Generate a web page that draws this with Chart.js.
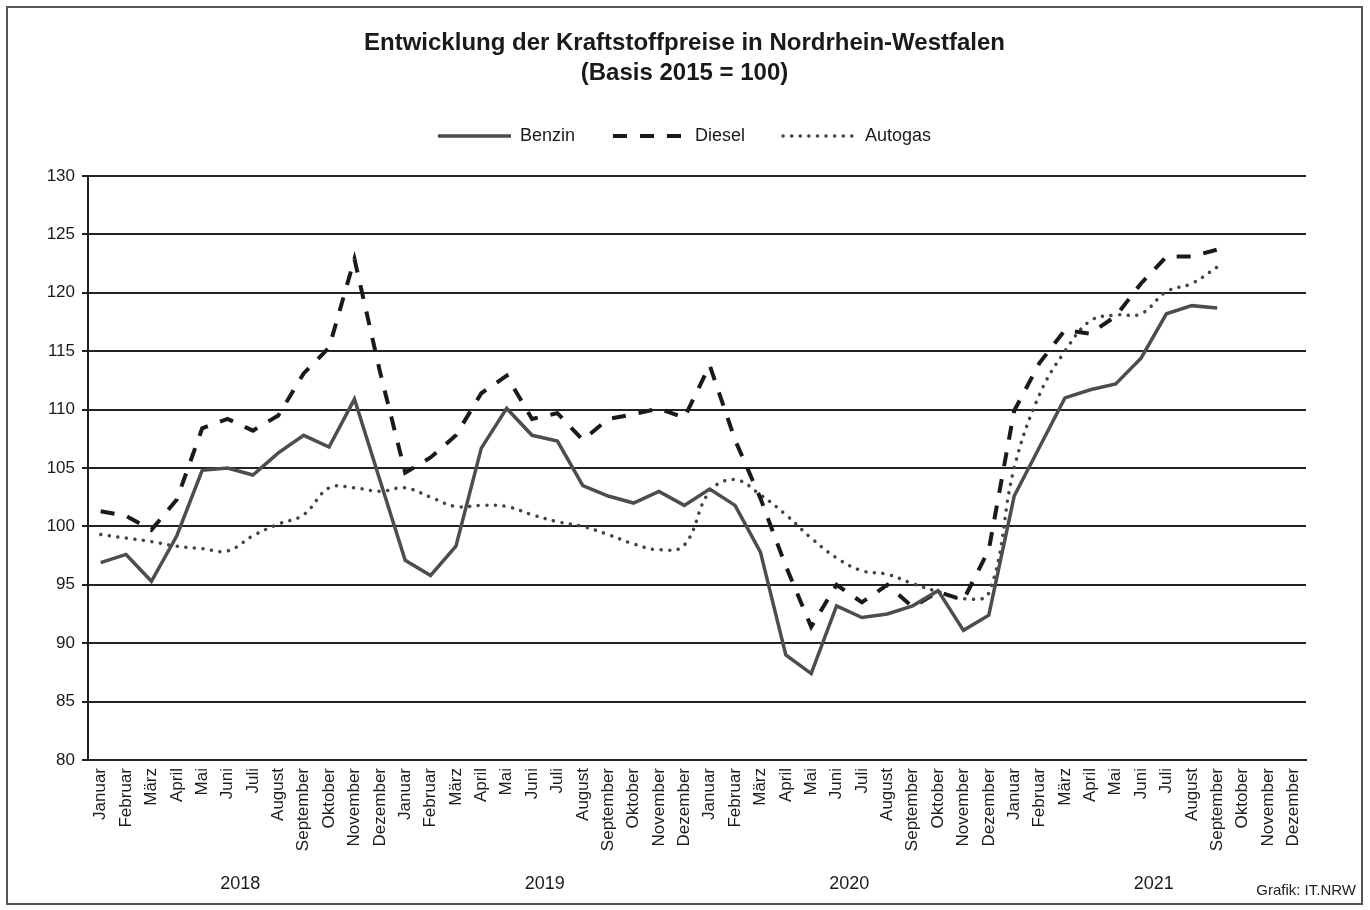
<!DOCTYPE html>
<html>
<head>
<meta charset="utf-8">
<script src="https://cdn.jsdelivr.net/npm/chart.js@4/dist/chart.umd.min.js"></script>
<style>
  body { margin: 0; background: #fff; }
  #frame { position: absolute; left: 6px; top: 6px; width: 1357px; height: 899px; border: 2px solid #555; box-sizing: border-box; }
  #quelle { position: absolute; right: 14px; top: 881px; font: 15px "Liberation Sans", Arial, sans-serif; color: #222; }
</style>
</head>
<body>
<div id="frame"><canvas id="chart" width="1353" height="895"></canvas></div>
<div id="quelle">Grafik: IT.NRW</div>
<script>
// Monate und Jahre
const months = ['Januar', 'Februar', 'März', 'April', 'Mai', 'Juni', 'Juli', 'August', 'September', 'Oktober', 'November', 'Dezember'];
const years = ['2018', '2019', '2020', '2021'];

// Index-Werte (2015 = 100), Januar 2018 bis September 2021
const benzin = [96.9, 97.6, 95.3, 99.2, 104.8, 105.0, 104.4, 106.3, 107.8, 106.8, 110.9, 104.0,
                97.1, 95.8, 98.3, 106.7, 110.1, 107.8, 107.3, 103.5, 102.6, 102.0, 103.0, 101.8,
                103.2, 101.8, 97.8, 89.0, 87.4, 93.2, 92.2, 92.5, 93.2, 94.5, 91.1, 92.4,
                102.6, 106.8, 111.0, 111.7, 112.2, 114.4, 118.2, 118.9, 118.7];
const diesel = [101.3, 100.9, 99.7, 102.3, 108.4, 109.2, 108.2, 109.5, 113.1, 115.3, 122.9, 113.3,
                104.6, 105.9, 107.8, 111.4, 112.9, 109.2, 109.7, 107.4, 109.2, 109.6, 110.1, 109.3,
                113.8, 107.4, 102.4, 96.6, 91.4, 95.0, 93.5, 95.0, 93.1, 94.4, 93.7, 98.0,
                109.9, 114.0, 116.8, 116.5, 118.0, 120.8, 123.1, 123.1, 123.7];
const autogas = [99.3, 99.0, 98.7, 98.3, 98.1, 97.9, 99.2, 100.2, 101.0, 103.3, 103.3, 103.0,
                 103.3, 102.5, 101.7, 101.8, 101.7, 101.0, 100.4, 100.0, 99.3, 98.5, 98.0, 98.4,
                 103.0, 104.0, 102.7, 101.0, 99.0, 97.3, 96.2, 95.9, 95.1, 94.4, 93.8, 94.3,
                 105.0, 111.3, 115.0, 117.6, 118.1, 118.2, 120.1, 120.8, 122.2];

var labels = [];
years.forEach(() => { labels = labels.concat(months); });

const font = '"Liberation Sans", Arial, sans-serif';

// extra space between legend and plot
const legendSpacer = {
    id: 'legendSpacer',
    beforeLayout(chart) {
        const legend = chart.legend;
        if (!legend || legend._spaced) return;
        const fit = legend.fit;
        legend.fit = function () {
            fit.call(this);
            this.height += 21;
        };
        legend._spaced = true;
    }
};

new Chart("chart", {
    type: 'line',
    data: {
        labels: labels,
        datasets: [
            {
                label: 'Benzin',
                data: benzin,
                borderColor: '#4d4d4d',
                borderWidth: 3.5,
                pointStyle: 'line',
                pointRadius: 0,
                tension: 0
            },
            {
                label: 'Diesel',
                data: diesel,
                borderColor: '#1a1a1a',
                borderWidth: 4,
                borderDash: [14, 13],
                pointStyle: 'line',
                pointRadius: 0,
                tension: 0
            },
            {
                label: 'Autogas',
                data: autogas,
                borderColor: '#444',
                borderWidth: 3.5,
                borderDash: [0.1, 8.5],
                borderCapStyle: 'round',
                pointStyle: 'line',
                pointRadius: 0,
                tension: 0.4
            }
        ]
    },
    plugins: [legendSpacer],
    options: {
        responsive: false,
        animation: false,
        layout: { padding: { left: 0, right: 0, top: 0, bottom: 9 } },
        plugins: {
            title: {
                display: true,
                text: ['Entwicklung der Kraftstoffpreise in Nordrhein-Westfalen', '(Basis 2015 = 100)'],
                color: '#1a1a1a',
                font: { family: font, size: 24, weight: 'bold', lineHeight: 1.25 },
                padding: { top: 20, bottom: 1 }
            },
            legend: {
                labels: {
                    usePointStyle: true,
                    pointStyleWidth: 73,
                    padding: 38,
                    color: '#1a1a1a',
                    font: { family: font, size: 18 },
                    generateLabels: function (chart) {
                        const items = Chart.defaults.plugins.legend.labels.generateLabels(chart);
                        items.forEach((item) => {
                            const ds = chart.data.datasets[item.datasetIndex];
                            item.lineDash = ds.borderDash || [];
                            item.lineCap = ds.borderCapStyle || 'butt';
                            item.lineWidth = ds.borderWidth;
                            item.strokeStyle = ds.borderColor;
                        });
                        return items;
                    }
                }
            },
            tooltip: { enabled: false }
        },
        scales: {
            x: {
                offset: true,
                grid: { display: false, drawTicks: false },
                border: { display: true, color: '#222', width: 2 },
                ticks: {
                    autoSkip: false,
                    maxRotation: 90,
                    minRotation: 90,
                    padding: 8,
                    color: '#1a1a1a',
                    font: { family: font, size: 17 }
                },
                afterFit: function (scale) { scale.height = 104; }
            },
            x2: {
                type: 'category',
                labels: years,
                offset: true,
                position: 'bottom',
                grid: { display: false, drawTicks: false },
                border: { display: false },
                ticks: {
                    padding: 9,
                    color: '#1a1a1a',
                    font: { family: font, size: 18 }
                },
                afterFit: function (scale) { scale.height = 30; }
            },
            y: {
                min: 80,
                max: 130,
                ticks: {
                    stepSize: 5,
                    padding: 7,
                    color: '#1a1a1a',
                    font: { family: font, size: 17 }
                },
                grid: { color: '#222', lineWidth: 2, tickLength: 6 },
                border: { color: '#222', width: 2 },
                afterFit: function (scale) { scale.width = 80; }
            },
            // empty right axis, only keeps the plot off the right frame
            yRight: {
                position: 'right',
                grid: { display: false, drawTicks: false },
                border: { display: false },
                ticks: { display: false },
                afterFit: function (scale) { scale.width = 55; }
            }
        }
    }
});
</script>
</body>
</html>
